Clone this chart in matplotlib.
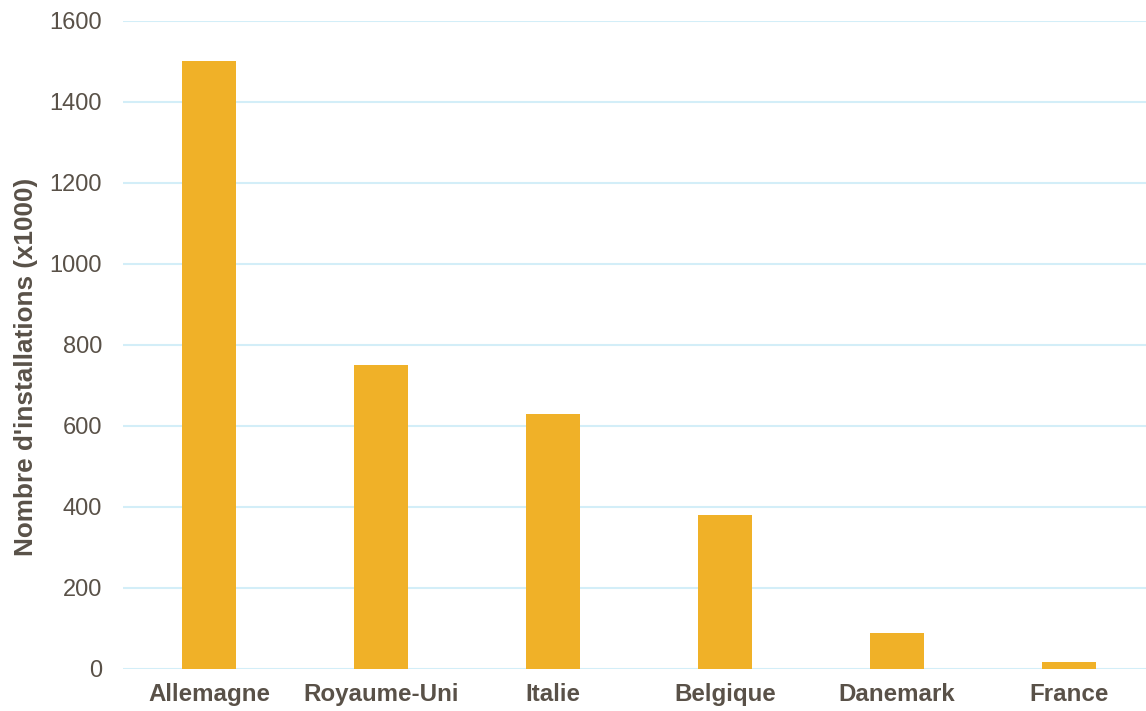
import matplotlib
matplotlib.use("Agg")
import matplotlib.pyplot as plt

# data
countries = ["Allemagne", "Royaume-Uni", "Italie", "Belgique", "Danemark", "France"]
installations = [1500, 750, 630, 380, 88, 18]
y_ticks = [0, 200, 400, 600, 800, 1000, 1200, 1400, 1600]

text_col = "#595148"
bar_col = "#F0B128"
grid_col = "#D3EEF8"

plt.rcParams["font.family"] = ["Liberation Sans", "DejaVu Sans"]

fig = plt.figure(figsize=(11.46, 7.11), dpi=100)
ax = fig.add_axes([0.1073, 0.0591, 0.8927, 0.9114])

ax.bar(range(len(countries)), installations, width=0.315, color=bar_col, zorder=3)

ax.set_xlim(-0.5, 5.45)
ax.set_ylim(0, 1600)
ax.set_yticks(y_ticks)
ax.set_yticklabels([str(t) for t in y_ticks], fontsize=17, color=text_col)
ax.set_xticks(range(len(countries)))
ax.set_xticklabels(countries, fontsize=17.4, fontweight="bold", color=text_col)
ax.tick_params(axis="both", length=0)
ax.tick_params(axis="y", pad=15)
ax.tick_params(axis="x", pad=10)

ax.yaxis.grid(True, color=grid_col, linewidth=1.5, zorder=0)
for s in ax.spines.values():
    s.set_visible(False)

ax.set_ylabel("Nombre d'installations (x1000)", fontsize=18.8, fontweight="bold",
              color=text_col)
ax.yaxis.set_label_coords(-0.083, 0.466)

fig.savefig("out.png", dpi=100)
